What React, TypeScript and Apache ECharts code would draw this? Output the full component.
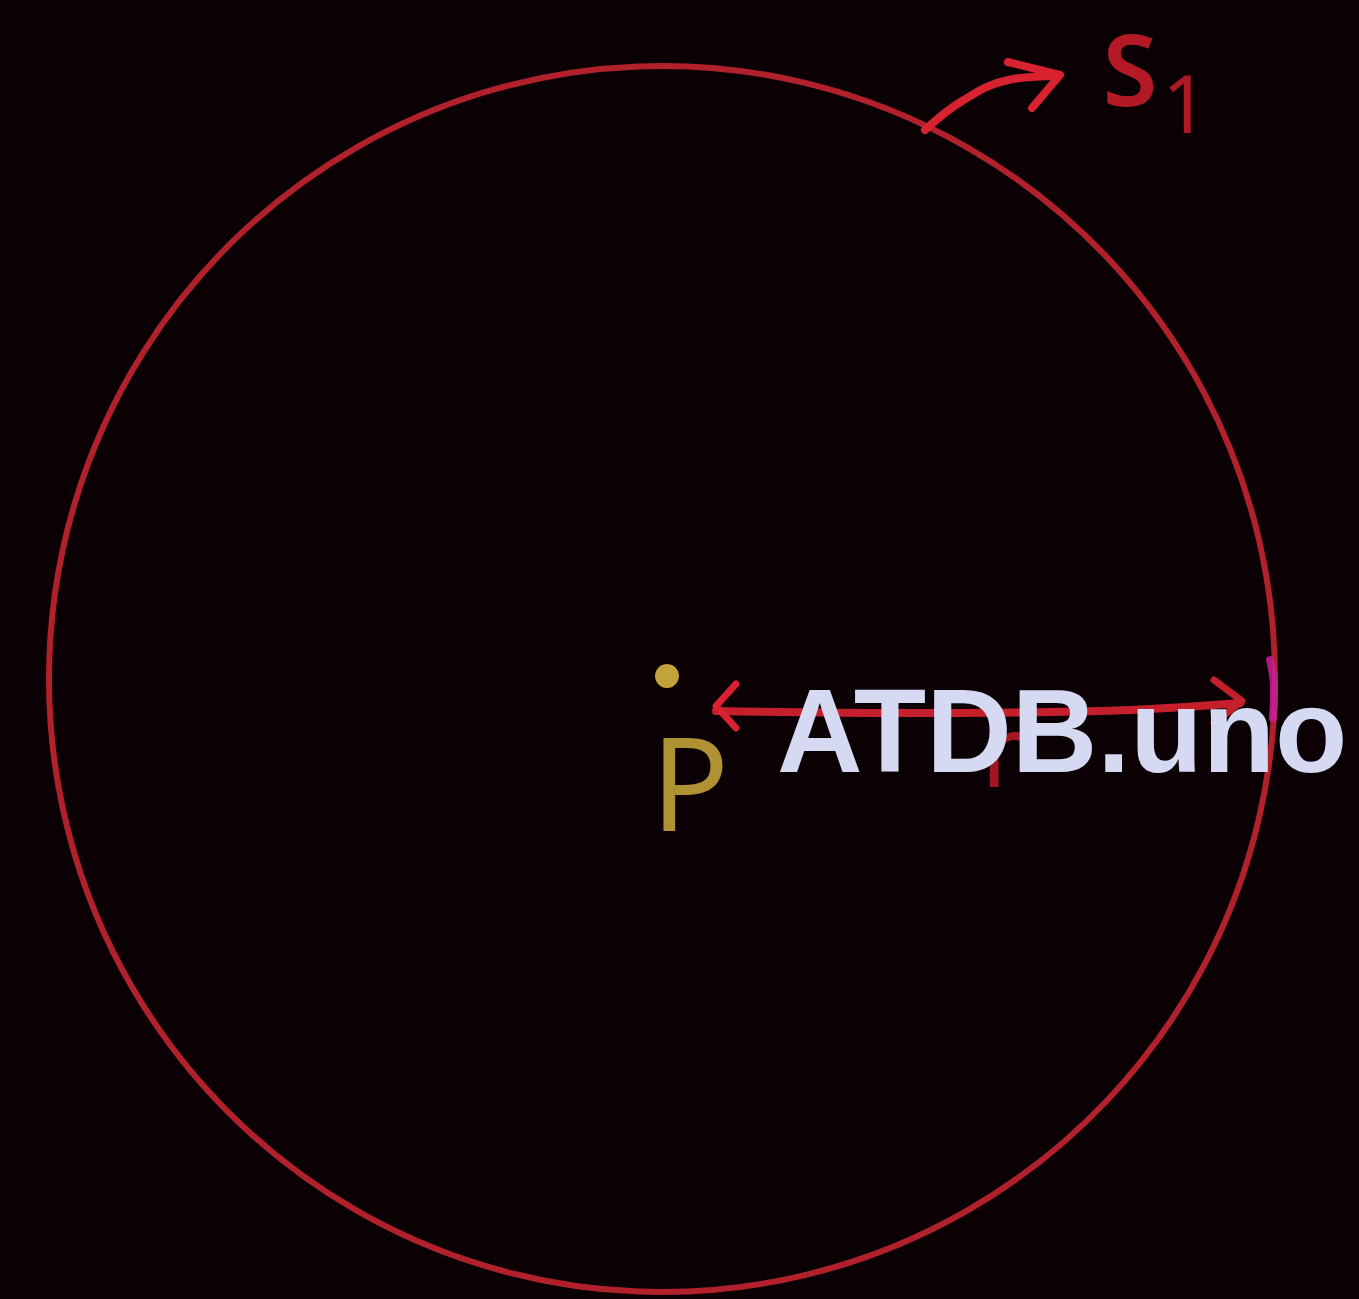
import React, { useEffect, useRef } from "react";
import * as echarts from "echarts";

// ---- data (page coordinates, y grows downward) ----
const circleCenter = [662, 679];
const circleRadius = 613;
const pointP = [667, 676];
const radiusArrowLine = [[716, 711], [900, 713], [1100, 711], [1240, 703]];
const radiusArrowLeftHead = [[736, 684], [716, 706], [736, 728]];
const radiusArrowRightHead = [[1214, 680], [1242, 701], [1214, 723]];
const s1ArrowLine = [[925, 130], [962, 101], [1008, 80], [1058, 76]];
const s1ArrowHead = [[1008, 62], [1060, 75], [1032, 108]];
const glowMark = [[1270, 660], [1274, 690], [1273, 718]];
const labelTexts = ["P", "S", "1", "r"];
const labelPositions = [[690, 781], [1130, 67], [1185, 101], [1002, 748]];
const labelSizes = [129, 100, 80, 100];
const labelWeights = ["normal", "600", "normal", "normal"];
const labelColors = ["#dab540", "#de2030", "#d81e2e", "#c61d2b"];
const watermark = "ATDB.uno";

export default function App() {
  const ref = useRef<HTMLDivElement>(null);
  useEffect(() => {
    if (!ref.current) return;
    const chart = echarts.init(ref.current, null, { renderer: "svg" });
    const lineSeries = (data: number[][], color: string, width: number, smooth: boolean | number, z = 3) => ({
      type: "line",
      data,
      smooth,
      symbol: "none",
      showSymbol: false,
      silent: true,
      z,
      lineStyle: { color, width, cap: "round", join: "round" },
    });
    const option = {
      animation: false,
      backgroundColor: "#0b0104",
      grid: { left: 0, right: 0, top: 0, bottom: 0 },
      xAxis: { type: "value", min: 0, max: 1359, show: false },
      yAxis: { type: "value", min: 0, max: 1299, inverse: true, show: false },
      series: [
        {
          type: "custom",
          silent: true,
          z: 2,
          data: [[circleCenter[0], circleCenter[1], circleRadius]],
          renderItem: (params: any, api: any) => {
            const c = api.coord([api.value(0), api.value(1)]);
            const r = api.size([api.value(2), 0])[0];
            return {
              type: "circle",
              shape: { cx: c[0], cy: c[1], r },
              style: { fill: "none", stroke: "#b0212b", lineWidth: 6 },
            };
          },
        },
        lineSeries(glowMark, "rgba(200,30,150,0.85)", 8, true, 3),
        lineSeries(radiusArrowLine, "#c4202c", 8, 0.4),
        lineSeries(radiusArrowLeftHead, "#d82230", 7, false),
        lineSeries(radiusArrowRightHead, "#c4202c", 7, false),
        lineSeries(s1ArrowLine, "#d82230", 8, 0.4),
        lineSeries(s1ArrowHead, "#d82230", 8, false),
        {
          type: "scatter",
          silent: true,
          z: 4,
          symbolSize: 24,
          itemStyle: { color: "#f0cc48" },
          data: [pointP],
        },
        {
          type: "scatter",
          silent: true,
          z: 4,
          symbolSize: 0,
          data: labelTexts.map((t, i) => ({
            name: t,
            value: labelPositions[i],
            label: {
              show: true,
              formatter: t,
              position: "inside",
              align: "center",
              verticalAlign: "middle",
              fontFamily: "Noto Sans",
              fontWeight: labelWeights[i],
              fontSize: labelSizes[i],
              lineHeight: Math.round(labelSizes[i] * 0.9),
              color: labelColors[i],
            },
          })),
        },
      ],
      graphic: [
        {
          type: "text",
          z: 100,
          x: 777,
          y: 731,
          style: {
            text: watermark,
            fontFamily: "Liberation Sans, Arial, sans-serif",
            fontWeight: "bold",
            fontSize: 118.5,
            fill: "#d5d9f2",
            align: "left",
            verticalAlign: "middle",
          },
        },
      ],
    };
    chart.setOption(option as any);
    return () => chart.dispose();
  }, []);
  return (
    <div
      ref={ref}
      style={{ position: "absolute", left: 0, top: 0, width: 1359, height: 1299 }}
    />
  );
}
